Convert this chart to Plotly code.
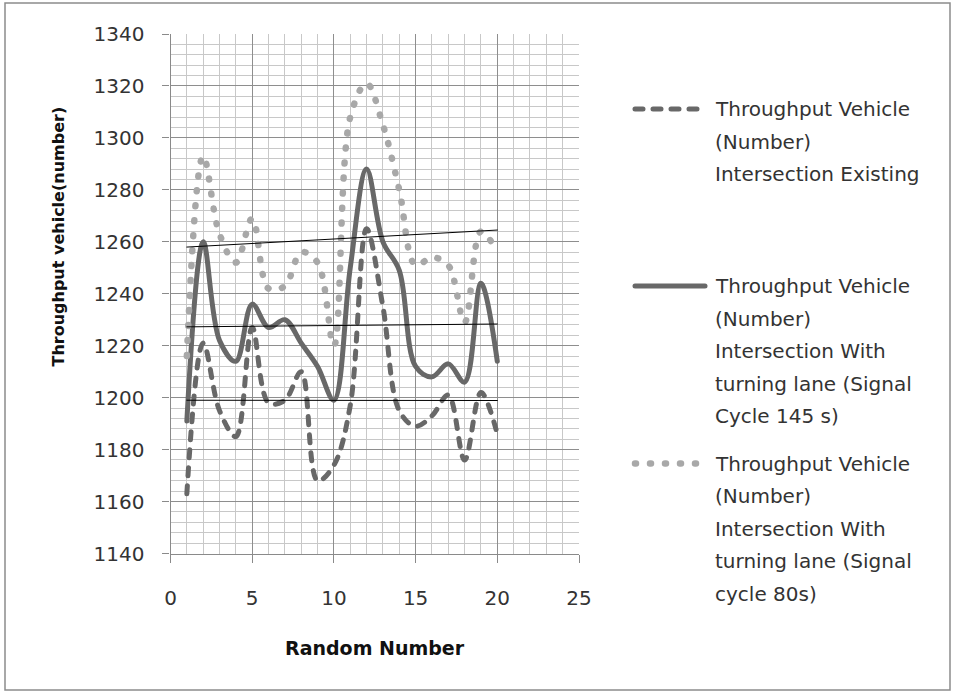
import numpy as np
import plotly.graph_objects as go

W, H = 956, 695

# ---------------- data ----------------
random_number = list(range(1, 21))
existing = [1163, 1221, 1195, 1185, 1227, 1198, 1199, 1210, 1168, 1174,
            1197, 1265, 1235, 1195, 1189, 1193, 1201, 1176, 1202, 1186]
cycle145 = [1191, 1260, 1222, 1214, 1236, 1227, 1230, 1221, 1212, 1199,
            1250, 1288, 1260, 1249, 1212, 1208, 1213, 1206, 1244, 1214]
cycle80 = [1216, 1293, 1263, 1252, 1269, 1242, 1243, 1256, 1252, 1220,
           1308, 1321, 1305, 1280, 1251, 1254, 1251, 1229, 1264, 1256]

legend_lines = [
    ["Throughput Vehicle", "(Number)", "Intersection Existing"],
    ["Throughput Vehicle", "(Number)", "Intersection With", "turning lane (Signal", "Cycle 145 s)"],
    ["Throughput Vehicle", "(Number)", "Intersection With", "turning lane (Signal", "cycle 80s)"],
]
x_title = "Random Number"
y_title = "Throughput vehicle(number)"

# ---------------- styles ----------------
FONT = "DejaVu Sans"
TXT = "#333333"
DARK = "#686868"
LIGHT = "#a8a8a8"
styles = [
    dict(color=DARK, width=5, dash="8px,10px"),   # existing
    dict(color=DARK, width=5, dash="solid"),       # cycle 145
    dict(color=LIGHT, width=6.5, dash="1px,14px"),  # cycle 80
]
series = [existing, cycle145, cycle80]

# plot-area geometry (pixels)
PL, PR, PT, PB = 170.5, 579.0, 34.0, 553.5

fig = go.Figure()

for vals, st, lines in zip(series, styles, legend_lines):
    fig.add_trace(go.Scatter(
        x=random_number, y=vals, mode="lines",
        line=dict(color=st["color"], width=st["width"], dash=st["dash"],
                  shape="spline", smoothing=1),
        name=" ".join(lines), showlegend=False, hoverinfo="skip"))

# linear trendlines
xs = np.array(random_number, dtype=float)
for vals in series:
    k, b = np.polyfit(xs, np.array(vals, dtype=float), 1)
    xe = [xs.min(), xs.max()]
    fig.add_trace(go.Scatter(
        x=xe, y=[k * v + b for v in xe], mode="lines",
        line=dict(color="#000000", width=1), showlegend=False, hoverinfo="skip"))

# legend (drawn manually to reproduce spacing)
entry_top = [109, 286, 463.5]
line_gap = 32.6
sample_x = [635, 705]
for st, lines, y0 in zip(styles, legend_lines, entry_top):
    fig.add_trace(go.Scatter(
        x=sample_x, y=[y0, y0], mode="lines", xaxis="x2", yaxis="y2",
        line=dict(color=st["color"], width=st["width"] if st["dash"] != "solid" else 5,
                  dash=st["dash"]),
        showlegend=False, hoverinfo="skip"))
    for i, t in enumerate(lines):
        fig.add_annotation(text=t, xref="paper", yref="paper",
                           x=713 / W, y=1 - (y0 + i * line_gap) / H,
                           xanchor="left", yanchor="middle", showarrow=False,
                           font=dict(family=FONT, size=20, color=TXT))

fig.add_annotation(text="<b>" + y_title + "</b>", xref="paper", yref="paper",
                   x=58 / W, y=1 - 236.5 / H, textangle=-90, showarrow=False,
                   xanchor="center", yanchor="middle",
                   font=dict(family=FONT, size=16, color="#111111"))
fig.add_annotation(text="<b>" + x_title + "</b>", xref="paper", yref="paper",
                   x=375 / W, y=1 - 648 / H, showarrow=False,
                   xanchor="center", yanchor="middle",
                   font=dict(family=FONT, size=19, color="#111111"))

# outer chart frame
fig.add_shape(type="rect", xref="paper", yref="paper",
              x0=5 / W, y0=1 - 3 / H, x1=950 / W, y1=1 - 690 / H,
              line=dict(color="#8c8c8c", width=1.5), fillcolor="rgba(0,0,0,0)")

axis_common = dict(showline=True, linecolor="#8a8a8a", linewidth=1.2,
                   gridcolor="#8e8e8e", gridwidth=1, zeroline=False,
                   ticks="outside", tickcolor="#8a8a8a", tickwidth=1.2,
                   automargin=False,
                   tickfont=dict(family=FONT, size=20, color=TXT))

fig.update_layout(
    width=W, height=H,
    margin=dict(l=0, r=0, t=0, b=0, pad=0, autoexpand=False),
    paper_bgcolor="white", plot_bgcolor="rgba(0,0,0,0)",
    xaxis=dict(domain=[PL / W, PR / W], range=[0, 25], dtick=5, tick0=0,
               ticklen=8, ticklabelstandoff=18,
               minor=dict(dtick=1, showgrid=True, gridcolor="#c8c8c8", gridwidth=1, ticks=""),
               **axis_common),
    yaxis=dict(domain=[1 - PB / H, 1 - PT / H], range=[1140, 1340], dtick=20, tick0=1140,
               ticklen=7, ticklabelstandoff=14,
               minor=dict(dtick=4, showgrid=True, gridcolor="#c8c8c8", gridwidth=1, ticks=""),
               **axis_common),
    xaxis2=dict(domain=[0, 1], range=[0, W], visible=False, anchor="y2",
                fixedrange=True, automargin=False),
    yaxis2=dict(domain=[0, 1], range=[H, 0], visible=False, anchor="x2",
                fixedrange=True, automargin=False),
    showlegend=False,
)

post = """
document.documentElement.style.margin = '0';
document.documentElement.style.padding = '0';
document.documentElement.style.overflow = 'hidden';
document.body.style.margin = '0';
document.body.style.padding = '0';
document.body.style.overflow = 'hidden';
function roundCaps(){
  document.querySelectorAll('path.js-line').forEach(function(p){
    p.style.strokeLinecap = 'round';
    p.style.strokeLinejoin = 'round';
  });
}
roundCaps();
var gd = document.getElementById('{plot_id}');
if (gd && gd.on) { gd.on('plotly_afterplot', roundCaps); }
setTimeout(roundCaps, 50);
"""

fig.write_html("out.html", post_script=post, config={"displayModeBar": False})
